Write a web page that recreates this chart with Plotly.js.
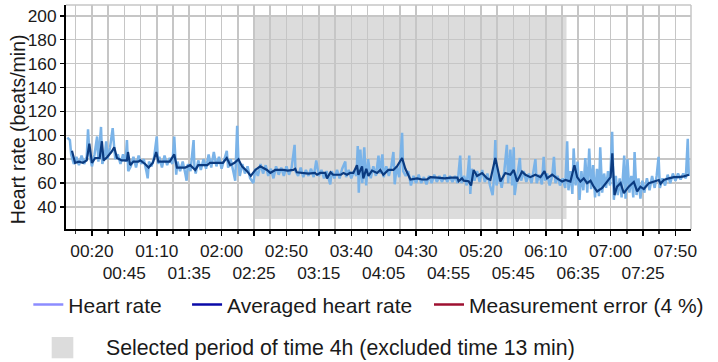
<!DOCTYPE html>
<html>
<head>
<meta charset="utf-8">
<script src="https://cdn.plot.ly/plotly-3.0.1.min.js"></script>
<style>html,body{margin:0;padding:0;background:#fff;}#chart{width:718px;height:362px;}</style>
</head>
<body>
<div id="chart"></div>
<script>
// ---- Data (minutes since 00:00, beats/min) ----
const rawMinutes = [1,3,4,6,8,10,12,14,16,17,18,20,
22,24,25,27,28,30,31,32,34,36,37,38,40,
42,44,46,47,48,50,52,54,56,58,60,
62,63,64,66,68,70,71,72,74,76,78,80,
82,83.5,85,86,88,90,92,93,94,96,98.4,99,100,
102,104,106,108,110,112,114,116,118,120,
122,124,125,127,129,130.5,132,133,134,136,138,140,142,144.5,146,
148,150,152,154,156,158,160,162,164,166,168,170,172,174,176.3,177,179,181,183,185,187,189,191,193,195,197,199,
201,203.8,205,207,209,211,213,215.4,216,218,220,
222,224,225,225.8,227,228.5,230,231.5,233,235,237,239,241,242,244,245,247,249,251,252.5,253.5,255,257,259.2,260,
262,264,266,268,270,272,274,276,278,280,282,284,286,288,290,292,294,296,298,300,
302,304,305,307,309,311,311.8,313,315,317,319,321,323,325,327,329,330,
331.1,332,334,336,338,340,341,342.7,344,345.3,346,348,350,351,353,355,357,359,360.5,362,363,365,367,368.4,369.5,371,373,375,376.3,377.5,379,381,383,385,386.5,387.5,
389,390.5,391.5,393,394.5,396,397.5,399,400.5,402,403.5,405,406.5,408,409.5,411,412,413.5,415,416.5,418,419.5,421.2,422.5,424,425.5,427,428.5,430.5,431.5,433,434.5,436,437.5,438.5,440,441.5,443,444.5,446,448,450,452,454,455.5,457,458,460,462,464,466,468,470,472,474,476,478,479.5,480.3];
const rawBpm = [98,96,84,76,82,75,83,76,82,105,86,74,
84,99,78,107,76,84,95,80,90,106,92,80,84,
76,84,78,96,70,74,82,73,83,76,80,
70,64,78,74,82,99,76,82,73,83,75,81,
76,99,67,78,70,78,68,62,76,70,96,74,68,
79,71,80,72,84,73,86,74,82,72,
80,87,73,80,70,62,108,78,66,76,68,74,64,60,72,
66,76,68,75,66,72,64,74,67,73,66,74,67,73,92,70,66,73,65,71,66,72,65,79,66,71,64,
70,59,70,64,71,64,72,78,65,71,64,
70,66,91,52,88,60,90,58,80,64,74,66,83,68,84,65,74,66,75,86,59,74,65,102,70,
66,70,58,66,60,67,60,65,59,66,60,67,61,66,61,67,61,66,61,66,
60,83,60,66,58,83,51,72,62,70,61,71,61,68,58,50,64,
96,58,67,56,70,92,60,88,58,90,50,66,81,62,70,61,68,60,70,80,60,67,59,82,62,68,58,66,82,60,66,58,64,56,95,54,
70,51,89,58,78,46,70,54,81,52,89,55,75,48,72,49,90,52,68,56,70,58,103,46,66,50,64,48,83,47,80,52,66,48,86,50,64,47,62,52,64,54,66,56,66,82,56,64,58,67,60,68,62,68,63,68,64,97,66];

const avgMinutes = [4.6,7,10,13,16,18,20,22.5,26,27.7,29,32,35,37.2,39.3,43,47,47.8,49.5,52,55.7,57.3,61,63.7,67,69.6,71.2,75,80,83.5,85.6,88,92,95.8,99.7,102,109,111,116,121,124,126.7,130,133,135.7,139.6,142.5,146,149.8,155,157.6,161.4,167.6,171,175.3,176.8,178,182,187,192,193.6,196,200,201.3,204,206,212,214,216.7,219,221.6,224.4,225.5,228.3,229.3,231.6,233.2,236,239.9,242.4,244.7,248.6,252.5,255.3,259.2,261.7,265.6,270.7,274.6,278.4,281,286.4,292,297,301.8,302.8,305.4,306.7,310.5,312.4,314.4,317,320.9,324.7,327.3,331.1,335,338.8,342.7,345.3,347.9,351.7,354.3,358.1,362,365.9,369,371,374.9,378.7,382.6,385.2,389,392.1,394.2,396.7,399.3,401.9,404.5,407,409.6,413.5,417.4,420,421.3,423,425,427.7,430.2,434,437.9,440.5,443,445.6,449.5,453.4,457.2,458.5,461,464.9,468.8,472.6,476.5,480.4];
const avgBpm = [87,77,78,77,79,93,77,81,81,95,79,82,86,90,81,79,79,86,75,78,78,79,76,73,77,86,78,78,78,84,73,73,73,75,71,75,75,77,77,77,81,75,77,80,74,70,66,71,74,71,68.5,71,71,70.5,71,72,69,68.5,68,68.5,67,68.5,68.5,64,69,67,67,68.5,67,68.5,68.5,75,67,74,64,72,66,70.5,68.5,71,67,71,71,74,81,72,63,64,63,63,65,64.5,64,64.5,64.5,61.6,64,62,61.6,58,71,66,68.4,64,62.6,81,61.3,68.4,67,71,61.3,69.6,67,65,67,65,70,64,67,64,61.3,62.6,61.3,75,65,61.3,64,60,62,57,53,56,61.3,65,85,50,57,60,51.6,57,61,53,57,55,60,61.3,62.6,59.5,62.6,64,65,65,65.6,67];

const selStart = 145, selEnd = 386;      // selected period (minutes)
const selLow = 30, selHigh = 200;        // vertical extent of the band (bpm)

const tickMinutes = [20,45,70,95,120,145,170,195,220,245,270,295,320,345,370,395,420,445,470];
const tickLabels = ["00:20","00:45","01:10","01:35","02:00","02:25","02:50","03:15","03:40","04:05","04:30","04:55","05:20","05:45","06:10","06:35","07:00","07:25","07:50"];
const yTicks = [40,60,80,100,120,140,160,180,200];

const seriesNames = ["Heart rate","Averaged heart rate","Measurement error (4 %)"];
const legendColors = ["#8c8cff","#0a0aa8","#9e1030"];
const periodLabel = "Selected period of time 4h (excluded time 13 min)";

// ---- Chart ----
const FONT = "Liberation Sans, Arial, sans-serif";
const ticktext = tickLabels.map((l,i)=> i%2===0 ? l : "<br>"+l);

const traces = [
  {x: rawMinutes, y: rawBpm, type:'scatter', mode:'lines', line:{color:'#7ab3e8', width:2.5}, showlegend:false, hoverinfo:'skip'},
  {x: avgMinutes, y: avgBpm, type:'scatter', mode:'lines', line:{color:'#0b3b80', width:2.2}, showlegend:false, hoverinfo:'skip'},
  {x:[null], y:[null], type:'scatter', mode:'lines', name:seriesNames[0], line:{color:legendColors[0], width:2.5}, legend:'legend'},
  {x:[null], y:[null], type:'scatter', mode:'lines', name:seriesNames[1], line:{color:legendColors[1], width:2.5}, legend:'legend2'},
  {x:[null], y:[null], type:'scatter', mode:'lines', name:seriesNames[2], line:{color:legendColors[2], width:2.5}, legend:'legend3'}
];

const legBase = {orientation:'h', yanchor:'middle', xanchor:'left', y:-0.339, bgcolor:'rgba(0,0,0,0)', borderwidth:0,
  font:{family:FONT, size:21, color:'#1a1a1a'}};

const layout = {
  width:718, height:362,
  margin:{l:66, r:27, t:5, b:133},
  paper_bgcolor:'#fff', plot_bgcolor:'#fff',
  font:{family:FONT, color:'#1a1a1a'},
  xaxis:{
    range:[0,482], tickmode:'array', tickvals:tickMinutes, ticktext:ticktext, tickangle:0,
    ticks:'outside', ticklen:5, tickcolor:'#000', tickwidth:1.5,
    showgrid:true, gridcolor:'#c6c6c6', gridwidth:1.5,
    minor:{tick0:7.5, dtick:12.5, showgrid:true, gridcolor:'#c6c6c6', gridwidth:1.5, ticks:'outside', ticklen:3, tickcolor:'#333'},
    showline:true, linecolor:'#000', linewidth:2, zeroline:false,
    tickfont:{family:FONT, size:17.3, color:'#1a1a1a'}
  },
  yaxis:{
    range:[21.6,209], tickmode:'array', tickvals:yTicks,
    ticks:'outside', ticklen:4, tickcolor:'#000', tickwidth:1.5,
    showgrid:true, gridcolor:'#c6c6c6', gridwidth:1.5,
    showline:true, linecolor:'#000', linewidth:2, zeroline:false,
    tickfont:{family:FONT, size:17.3, color:'#1a1a1a'}
  },
  shapes:[
    {type:'rect', xref:'x', yref:'y', x0:selStart, x1:selEnd, y0:selLow, y1:selHigh, fillcolor:'#dcdcdc', line:{width:0}, layer:'below'},
    {type:'line', xref:'paper', yref:'paper', x0:0, x1:1, y0:1, y1:1, line:{color:'#c6c6c6', width:1.5}},
    {type:'line', xref:'paper', yref:'paper', x0:1, x1:1, y0:0, y1:1, line:{color:'#c6c6c6', width:1.5}},
    {type:'rect', xref:'paper', yref:'paper', x0:-0.0229, x1:0.0117, y0:-0.5772, y1:-0.4821, fillcolor:'#dcdcdc', line:{width:0}}
  ],
  annotations:[
    {text:'Heart rate (beats/min)', xref:'paper', yref:'paper', x:-0.0755, y:0.445, textangle:-90, showarrow:false,
     xanchor:'center', yanchor:'middle', font:{family:FONT, size:19.5, color:'#1a1a1a'}},
    {text:periodLabel, xref:'paper', yref:'paper', x:0.0608, y:-0.531, xanchor:'left', yanchor:'middle', showarrow:false,
     font:{family:FONT, size:21.3, color:'#1a1a1a'}}
  ],
  legend: Object.assign({}, legBase, {x:-0.0603}),
  legend2: Object.assign({}, legBase, {x:0.1937}),
  legend3: Object.assign({}, legBase, {x:0.5808})
};

Plotly.newPlot('chart', traces, layout, {displayModeBar:false, staticPlot:true});
</script>
</body>
</html>
